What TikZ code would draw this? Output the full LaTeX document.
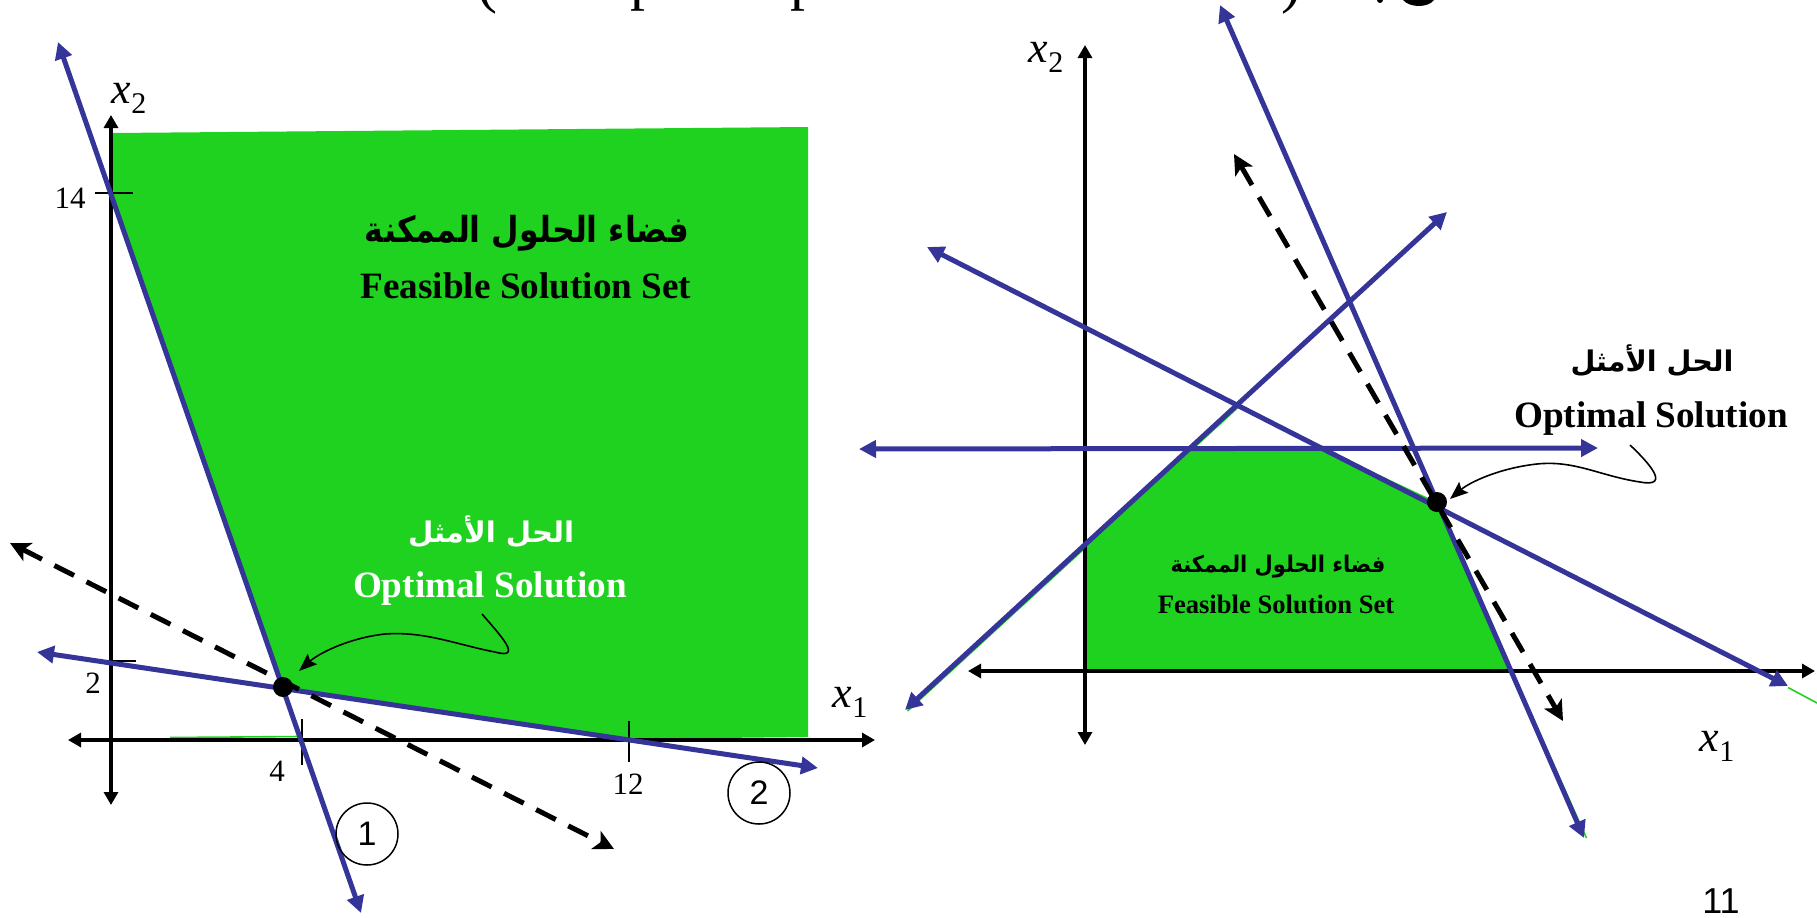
\documentclass[tikz,border=0pt]{standalone}
\usepackage{fontspec}
\usepackage{graphicx}
\setmainfont{Liberation Serif}
\newfontfamily\arabicfont[Script=Arabic]{DejaVu Sans}
\newfontfamily\sansf{Liberation Sans}
\TeXXeTstate=1
\usetikzlibrary{arrows.meta}
\definecolor{lpblue}{RGB}{53,53,153}
\definecolor{lpgreen}{RGB}{32,210,32}
\newcommand\xlab[1]{{\fontsize{22}{24}\selectfont\textit{x}}\raisebox{-5pt}{\fontsize{15}{16}\selectfont #1}}
\begin{document}
\begin{tikzpicture}[x=0.5pt,y=-0.5pt,
  bline/.style={draw=lpblue, line width=2.5pt, {Triangle[length=8.5pt,width=8.5pt]}-{Triangle[length=8.5pt,width=8.5pt]}},
  axisline/.style={draw=black, line width=1.6pt, {Triangle[length=6.5pt,width=7pt]}-{Triangle[length=6.5pt,width=7pt]}},
  dline/.style={draw=black, line width=2.5pt, dash pattern=on 11pt off 7pt, {Stealth[length=10pt,width=10pt,inset=2.5pt]}-{Stealth[length=10pt,width=10pt,inset=2.5pt]}},
  tickline/.style={draw=black, line width=1pt},
  curvy/.style={draw=black, line width=0.8pt, -{Stealth[length=9pt,width=7pt,inset=1.5pt]}},
  sliver/.style={draw=lpgreen, line width=0.8pt},
  optdot/.style={circle, fill=black, inner sep=0pt, minimum size=10pt},
  numcirc/.style={circle, draw=black, line width=0.75pt, minimum size=31pt, inner sep=0pt, font=\sansf\fontsize{17}{18}\selectfont},
  ticklab/.style={inner sep=0pt, font=\fontsize{15.5}{16}\selectfont},
  entext/.style={inner sep=0pt, anchor=base, font=\bfseries\fontsize{18.6}{20}\selectfont},
  titlefrag/.style={inner sep=0pt, font=\fontsize{30}{30}\selectfont}
]
\useasboundingbox (0,0) rectangle (1817,917);

% ---------- cut-off title fragments ----------
\node[titlefrag, anchor=south] (tf1) at (487,15) {(};
\node[titlefrag, anchor=south west] (tf2) at (630,12) {p};
\node[titlefrag, anchor=south west] (tf3) at (790,12) {p};
\node[titlefrag, anchor=south] (tf4) at (1291,15) {)};
\fill (1403,0) .. controls (1410,8) and (1428,8) .. (1434,0) -- cycle;
\fill (1380,0) circle (1.5pt);

% ---------- LEFT DIAGRAM ----------
\coordinate (L1a) at (58,42);   \coordinate (L1b) at (361,913);
\coordinate (L2a) at (37,652);  \coordinate (L2b) at (818,768);
\coordinate (D1a) at (10,543);  \coordinate (D1b) at (614,849);
\coordinate (X2a) at (111,115); \coordinate (X2b) at (111,805);
\coordinate (X1a) at (68,740);  \coordinate (X1b) at (875,740);

\fill[lpgreen] (112,133) -- (808,127) -- (808,737) -- (629,739) -- (283,687) -- (111,193) -- cycle;
\draw[sliver] (170,737.5) -- (300,736.5);

\draw[axisline] (X2b) -- (X2a);
\draw[axisline] (X1a) -- (X1b);

\draw[tickline] (95,193) -- (133,193);
\draw[tickline] (92,661) -- (136,661);
\draw[tickline] (302,719) -- (302,765);
\draw[tickline] (629,721) -- (629,762);
\node[ticklab, anchor=east] (t14) at (86,198) {14};
\node[ticklab] (t2) at (93,683) {2};
\node[ticklab] (t4) at (277,771) {4};
\node[ticklab] (t12) at (628,784) {12};

\node (lx2) at (129,98) {\xlab{2}};
\node (lx1) at (850,702) {\xlab{1}};

\draw[bline] (L1a) -- (L1b);
\draw[bline] (L2a) -- (L2b);
\draw[dline] (D1a) -- (D1b);

\node[optdot] (opt1) at (283,687) {};
\coordinate (tip1) at (299,671);
\coordinate (st1) at (482,614);
\draw[curvy] (st1) .. controls (500,635) and (524,660) .. (495,652)
  .. controls (458,645) and (425,631) .. (385,634)
  .. controls (348,638) and (318,654) .. (tip1);

\node[inner sep=0pt] (lar1) at (527,233) {\resizebox*{162pt}{18pt}{\arabicfont\bfseries\beginR فضاء الحلول الممكنة\endR}};
\node[entext] (len1) at (526,298) {Feasible Solution Set};
\node[inner sep=0pt, text=white] (lar2) at (491,532) {\resizebox*{83pt}{16pt}{\arabicfont\bfseries\beginR الحل الأمثل\endR}};
\node[entext, text=white] (len2) at (490,597) {Optimal Solution};

\node[numcirc] (c1) at (367,834) {1};
\node[numcirc] (c2) at (759,793) {2};

% ---------- RIGHT DIAGRAM ----------
\coordinate (RHa) at (859,449);  \coordinate (RHb) at (1598,448);
\coordinate (RAa) at (905,710);  \coordinate (RAb) at (1447,212);
\coordinate (RBa) at (927,247);  \coordinate (RBb) at (1788,686);
\coordinate (RCa) at (1220,5);   \coordinate (RCb) at (1584,838);
\coordinate (RDa) at (1234,154); \coordinate (RDb) at (1563,721);
\coordinate (RX2a) at (1085,45); \coordinate (RX2b) at (1085,745);
\coordinate (RX1a) at (968,671); \coordinate (RX1b) at (1815,671);

\fill[lpgreen] (1085,545) -- (1191,448) -- (1322,448) -- (1437,502) -- (1509,671) -- (1085,671) -- cycle;
\draw[sliver] (1239.5,406) -- (907.5,711);
\draw[sliver] (1511.5,671) -- (1586.5,838);
\draw[sliver] (1788,687.5) -- (1817,703);

\draw[axisline] (RX2b) -- (RX2a);
\draw[axisline] (RX1a) -- (RX1b);

\node (rx2) at (1046,57) {\xlab{2}};
\node (rx1) at (1717,746) {\xlab{1}};

\draw[bline] (RHa) -- (RHb);
\draw[bline] (RAa) -- (RAb);
\draw[bline] (RBa) -- (RBb);
\draw[bline] (RCa) -- (RCb);
\draw[dline] (RDa) -- (RDb);

\node[optdot] (opt2) at (1437,502) {};
\coordinate (tip2) at (1450,499);
\coordinate (st2) at (1630,445);
\draw[curvy] (st2) .. controls (1648,462) and (1672,488) .. (1640,482)
  .. controls (1600,476) and (1575,460) .. (1537,464)
  .. controls (1500,468) and (1470,482) .. (tip2);

\node[inner sep=0pt] (rar1) at (1278,567) {\resizebox*{107.5pt}{11.5pt}{\arabicfont\bfseries\beginR فضاء الحلول الممكنة\endR}};
\node[inner sep=0pt, anchor=base, font=\bfseries\fontsize{13.3}{14}\selectfont] (ren1) at (1276,613) {Feasible Solution Set};
\node[inner sep=0pt] (rar2) at (1652,361) {\resizebox*{81.5pt}{16pt}{\arabicfont\bfseries\beginR الحل الأمثل\endR}};
\node[entext] (ren2) at (1651,427) {Optimal Solution};

\node[inner sep=0pt, font=\sansf\fontsize{18}{20}\selectfont] (pg) at (1721,901) {11};
\end{tikzpicture}
\end{document}
